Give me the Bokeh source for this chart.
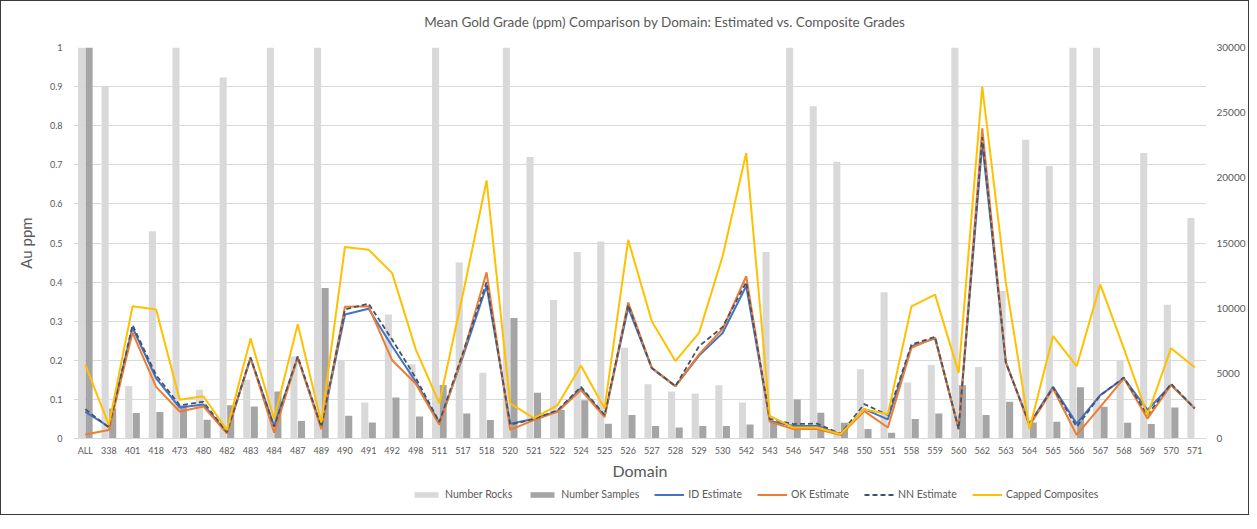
from bokeh.plotting import figure
from bokeh.layouts import column
from bokeh.models import (Range1d, LinearAxis, FixedTicker, CustomJSTickFormatter,
                          Legend, LegendItem, ColumnDataSource, BasicTickFormatter, Label)
from bokeh.transform import dodge
from bokeh.embed import file_html
from bokeh.resources import INLINE

TITLE = "Mean Gold Grade (ppm) Comparison by Domain: Estimated vs. Composite Grades"

domains = ["ALL", "338", "401", "418", "473", "480", "482", "483", "484", "487", "489",
           "490", "491", "492", "498", "511", "517", "518", "520", "521", "522", "524",
           "525", "526", "527", "528", "529", "530", "542", "543", "546", "547", "548",
           "550", "551", "558", "559", "560", "562", "563", "564", "565", "566", "567",
           "568", "569", "570", "571"]

number_rocks = [30000, 27000, 4020, 15900, 30000, 3750, 27690, 4500, 30000, 6300, 30000,
                6000, 2760, 9510, 5700, 30000, 13500, 5040, 30000, 21600, 10620, 14310,
                15120, 6960, 4170, 3600, 3450, 4080, 2760, 14310, 30000, 25500, 21240,
                5310, 11220, 4290, 5640, 30000, 5490, 11310, 22920, 20910, 30000, 30000,
                6000, 21900, 10260, 16920]

number_samples = [30000, 2310, 1950, 2040, 2550, 1440, 2550, 2460, 3600, 1350, 11550,
                  1740, 1230, 3150, 1680, 4110, 1920, 1410, 9240, 3510, 2190, 2940,
                  1140, 1800, 960, 840, 960, 960, 1080, 1230, 3000, 1980, 1200,
                  720, 450, 1500, 1920, 4080, 1800, 2820, 1230, 1290, 3930, 2430,
                  1200, 1110, 2370, 0]

id_estimate = [0.068, 0.030, 0.284, 0.154, 0.079, 0.087, 0.015, 0.205, 0.032, 0.207, 0.028,
               0.317, 0.332, 0.236, 0.145, 0.040, 0.210, 0.390, 0.038, 0.050, 0.070, 0.128,
               0.057, 0.335, 0.180, 0.134, 0.212, 0.270, 0.390, 0.045, 0.032, 0.032, 0.011,
               0.075, 0.049, 0.236, 0.256, 0.024, 0.755, 0.194, 0.037, 0.132, 0.038, 0.111,
               0.154, 0.073, 0.137, 0.077]

ok_estimate = [0.010, 0.022, 0.271, 0.132, 0.069, 0.082, 0.013, 0.207, 0.015, 0.207, 0.024,
               0.337, 0.338, 0.200, 0.140, 0.035, 0.215, 0.425, 0.022, 0.047, 0.068, 0.124,
               0.055, 0.348, 0.181, 0.134, 0.215, 0.280, 0.415, 0.043, 0.024, 0.024, 0.009,
               0.070, 0.028, 0.232, 0.258, 0.024, 0.793, 0.196, 0.032, 0.128, 0.009, 0.081,
               0.154, 0.051, 0.137, 0.077]

nn_estimate = [0.075, 0.028, 0.290, 0.162, 0.085, 0.094, 0.016, 0.207, 0.030, 0.210, 0.030,
               0.330, 0.345, 0.253, 0.155, 0.042, 0.220, 0.400, 0.035, 0.050, 0.072, 0.132,
               0.060, 0.342, 0.180, 0.134, 0.236, 0.285, 0.400, 0.050, 0.037, 0.038, 0.012,
               0.088, 0.060, 0.240, 0.260, 0.024, 0.770, 0.194, 0.037, 0.130, 0.030, 0.110,
               0.156, 0.060, 0.140, 0.077]

capped_composites = [0.188, 0.035, 0.338, 0.330, 0.099, 0.108, 0.022, 0.256, 0.050, 0.292, 0.041,
                     0.490, 0.483, 0.423, 0.228, 0.090, 0.370, 0.660, 0.090, 0.052, 0.085, 0.186,
                     0.077, 0.508, 0.300, 0.198, 0.270, 0.466, 0.730, 0.058, 0.028, 0.028, 0.011,
                     0.075, 0.062, 0.338, 0.368, 0.168, 0.900, 0.398, 0.024, 0.262, 0.185, 0.394,
                     0.230, 0.060, 0.231, 0.182]

series_names = ["Number Rocks", "Number Samples", "ID Estimate", "OK Estimate",
                "NN Estimate", "Capped Composites"]

left_ticks = [0, 0.1, 0.2, 0.3, 0.4, 0.5, 0.6, 0.7, 0.8, 0.9, 1]
right_ticks = [0, 5000, 10000, 15000, 20000, 25000, 30000]

FONT = "Lato"
TXT = "#595959"
C_ROCKS, C_SAMPLES = "#d9d9d9", "#a5a5a5"
C_ID, C_OK, C_NN, C_CAP = "#4472c4", "#ed7d31", "#44546a", "#ffc000"
NAN = float("nan")

src = ColumnDataSource(dict(domain=domains, rocks=number_rocks, samples=number_samples,
                            ide=id_estimate, oke=ok_estimate, nne=nn_estimate,
                            cap=capped_composites))

W = 1247


def strip(height):
    f = figure(width=W, height=height, x_range=Range1d(0, 1), y_range=Range1d(0, 1),
               output_backend="svg", toolbar_location=None,
               x_axis_type=None, y_axis_type=None,
               min_border_left=0, min_border_right=0, min_border_top=0, min_border_bottom=0)
    f.outline_line_color = None
    f.background_fill_color = "white"
    f.border_fill_color = "white"
    return f


# title strip
tf = strip(33)
tf.add_layout(Label(x=0.522, y=0.39, text=TITLE, text_align="center",
                    text_baseline="middle", text_font=FONT, text_font_size="13.5px",
                    text_color=TXT))

# main chart
p = figure(x_range=domains, y_range=Range1d(0, 1), width=W, height=448,
           output_backend="svg", toolbar_location=None,
           min_border_left=72, min_border_right=39, min_border_top=13, min_border_bottom=43)
p.extra_y_ranges = {"count": Range1d(0, 30000)}
p.title.text = ""
p.outline_line_color = None
p.background_fill_color = "white"
p.border_fill_color = "white"

# bars on secondary axis
p.vbar(x=dodge("domain", -0.16, range=p.x_range), top="rocks", width=0.3,
       source=src, y_range_name="count", fill_color=C_ROCKS, line_color=None)
p.vbar(x=dodge("domain", 0.16, range=p.x_range), top="samples", width=0.3,
       source=src, y_range_name="count", fill_color=C_SAMPLES, line_color=None)

# lines
p.line("domain", "ide", source=src, line_color=C_ID, line_width=2)
p.line("domain", "oke", source=src, line_color=C_OK, line_width=2)
p.line("domain", "nne", source=src, line_color=C_NN, line_width=1.8, line_dash="5 3")
p.line("domain", "cap", source=src, line_color=C_CAP, line_width=2)

# left axis
ya = p.yaxis[0]
ya.ticker = FixedTicker(ticks=left_ticks)
ya.formatter = CustomJSTickFormatter(code="return (Math.round(tick*10)/10).toString();")
ya.axis_label = "Au ppm"
ya.axis_label_text_font = FONT
ya.axis_label_text_font_size = "15px"
ya.axis_label_text_font_style = "normal"
ya.axis_label_text_color = TXT
ya.axis_label_standoff = 12
ya.major_label_text_font = FONT
ya.major_label_text_font_size = "9px"
ya.major_label_text_color = TXT
ya.axis_line_color = None
ya.major_tick_line_color = None
ya.minor_tick_line_color = None
ya.major_tick_out = 0
ya.major_tick_in = 0
ya.major_label_standoff = 11

# right axis
ra = LinearAxis(y_range_name="count", ticker=FixedTicker(ticks=right_ticks),
                formatter=BasicTickFormatter(use_scientific=False))
ra.major_label_text_font = FONT
ra.major_label_text_font_size = "10px"
ra.major_label_text_color = TXT
ra.axis_line_color = None
ra.major_tick_line_color = None
ra.minor_tick_line_color = None
ra.major_tick_out = 0
ra.major_tick_in = 0
ra.major_label_standoff = 10
p.add_layout(ra, "right")

# x axis
xa = p.xaxis[0]
xa.axis_label = "Domain"
xa.axis_label_text_font = FONT
xa.axis_label_text_font_size = "16px"
xa.axis_label_text_font_style = "normal"
xa.axis_label_text_color = TXT
xa.axis_label_standoff = 2
xa.major_label_text_font = FONT
xa.major_label_text_font_size = "9px"
xa.major_label_text_color = TXT
xa.axis_line_color = "#d9d9d9"
xa.major_tick_line_color = None
xa.minor_tick_line_color = None
xa.major_tick_out = 0
xa.major_tick_in = 0
xa.major_label_standoff = 6

p.xgrid.visible = False
p.ygrid.grid_line_color = "#d9d9d9"
p.ygrid.grid_line_width = 1

# legend strip (separate small figure so the legend is not clipped by the main frame)
lf = strip(32)
g_rocks = lf.vbar(x=[NAN], top=[NAN], width=0.3, fill_color=C_ROCKS, line_color=None)
g_samples = lf.vbar(x=[NAN], top=[NAN], width=0.3, fill_color=C_SAMPLES, line_color=None)
g_id = lf.line(x=[NAN], y=[NAN], line_color=C_ID, line_width=2)
g_ok = lf.line(x=[NAN], y=[NAN], line_color=C_OK, line_width=2)
g_nn = lf.line(x=[NAN], y=[NAN], line_color=C_NN, line_width=1.8, line_dash="5 3")
g_cap = lf.line(x=[NAN], y=[NAN], line_color=C_CAP, line_width=2)

legend = Legend(items=[LegendItem(label=n, renderers=[r]) for n, r in
                       zip(series_names, [g_rocks, g_samples, g_id, g_ok, g_nn, g_cap])],
                orientation="horizontal", location=(338, 14))
legend.label_text_font = FONT
legend.label_text_font_size = "10.5px"
legend.label_text_color = TXT
legend.glyph_width = 30
legend.glyph_height = 7
legend.label_standoff = 4
legend.spacing = 15
legend.padding = 2
legend.margin = 0
legend.border_line_color = None
legend.background_fill_alpha = 0
legend.label_height = 10
lf.add_layout(legend, "center")

layout = column(tf, p, lf, spacing=0)
layout.styles = {"border": "1px solid #3a3a3a"}

open("out.html", "w").write(file_html(layout, INLINE))
